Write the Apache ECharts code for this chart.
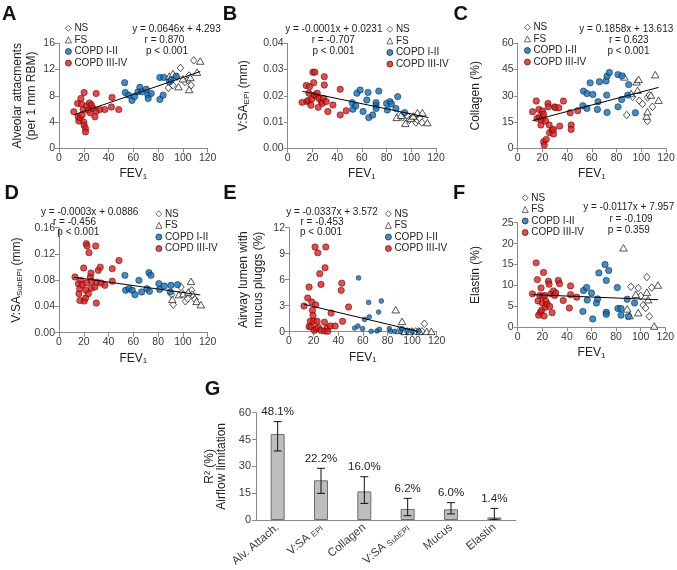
<!DOCTYPE html>
<html><head><meta charset="utf-8">
<script src="https://cdn.jsdelivr.net/npm/echarts@6/dist/echarts.min.js"></script>
<style>html,body{margin:0;padding:0;background:#fff}#c{width:677px;height:570px}</style>
</head><body><div id="c"></div>
<script>
const FONT = '"Liberation Sans", Arial, sans-serif';

// ---------- Panel A: Alveolar attachments ----------
const A_NS = [[88.3,9.2],[91.8,9.6],[95.3,10.9],[98,12.25],[101.7,10.1],[104,10.4],[105,11.1],[106.6,9.6],[108.7,13.4]];
const A_FS = [[89,11.0],[92,11.4],[96.4,9.4],[100,10.6],[105,8.96],[106,10.8],[111.4,11.6],[114,13.3]];
const A_C12 = [[53,10.0],[53.5,8.5],[56.2,8.1],[58.9,7.3],[61,7.9],[63.7,8.6],[65.3,9.3],[67,8.6],[70.4,9.0],[71.8,8.1],[72,7.6],[74.4,8.35],[81.4,7.45],[84,8.1],[81.4,10.8],[84.6,10.8],[89,10.1],[90.5,10.4],[94.5,11.0]];
const A_C34 = [[12,5.57],[15,6.84],[15.5,4.8],[16,4.15],[17,4.6],[17.7,7.6],[18.2,6.7],[18.7,5.1],[19.5,5.9],[20,4.0],[20.3,8.5],[20.3,3.5],[21.4,3.0],[21.4,2.5],[22.5,6.5],[23.6,5.8],[24.6,6.9],[25.2,5.4],[26.2,6.6],[27.6,6.1],[29,4.8],[30,8.35],[30.2,5.7],[33,5.9],[37,5.9],[42.3,6.3],[42.8,7.75],[48.2,5.9]];
const A_trend = [[12,5.1],[114,11.7]];

// ---------- Panel B: V:SA EPI ----------
const B_NS = [[90.3,0.0127],[93,0.0118],[97,0.0123],[98.4,0.0108],[102.4,0.0118],[103.8,0.0098],[105,0.0108],[107,0.0114],[108.6,0.0098]];
const B_FS = [[88.2,0.0118],[91.7,0.0126],[95.2,0.0095],[99.7,0.0114],[101.6,0.0123],[105,0.0136],[109,0.0136],[113,0.0098]];
const B_C12 = [[52.2,0.0174],[52.7,0.0149],[55,0.0161],[56,0.0210],[58.6,0.0222],[61,0.0140],[64,0.0184],[65,0.0213],[65.6,0.0117],[68.8,0.0127],[71.5,0.0174],[71.5,0.0163],[71.5,0.0152],[73.7,0.0218],[80,0.0171],[80.6,0.0146],[82.8,0.0178],[83.9,0.0169],[87.6,0.0152],[89,0.0197],[94.6,0.0136]];
const B_C34 = [[11.6,0.0175],[15,0.0239],[15.6,0.0178],[16.7,0.0182],[17.2,0.0210],[17.7,0.0235],[18.8,0.0164],[19.4,0.0187],[20.4,0.0290],[21,0.0250],[21.5,0.0203],[22,0.0290],[23,0.0200],[23.9,0.0210],[24.7,0.0156],[25.3,0.0190],[27.2,0.0178],[28,0.0171],[29,0.0190],[29.6,0.0273],[29.6,0.0241],[31.2,0.0178],[32.5,0.0140],[36.6,0.0165],[42.5,0.0225],[42.5,0.0127],[47.3,0.0143]];
const B_trend = [[12,0.0217],[114,0.0117]];

// ---------- Panel C: Collagen ----------
const C_NS = [[88.2,19],[93,29.4],[98.4,27.2],[101,25.3],[105,29],[105,15.6],[106.5,30.4],[109,23.7]];
const C_FS = [[86.3,40.8],[91.7,31.3],[96.2,38],[97,33.2],[97.8,39.4],[104.3,18.4],[105,20.9],[107.8,30.4],[111.3,42.1],[114,27.5]];
const C_C12 = [[52.7,24.3],[53.2,32.7],[56,31.3],[56,22.8],[58.6,37.4],[60.8,30.8],[64.5,22.2],[65,26.6],[66.1,38],[71.5,38.5],[72,30.4],[72.3,20.5],[72.3,41.2],[74.2,43.3],[81.2,23.7],[81.2,42.1],[84.4,41.4],[84.1,27.9],[89,30.4],[89.8,36.4],[95.2,20.3]];
const C_C34 = [[12,20.9],[15,27],[15.6,17.1],[17.2,22.2],[17.7,18],[18.8,13.3],[19.4,16.1],[20,21.3],[20.4,17.7],[21,19.4],[21,3.8],[21.5,1.9],[22.6,15.6],[23.1,5.1],[24.5,25.6],[24.7,23.7],[25.5,13.3],[25.8,8.9],[27.9,10.4],[29,8.2],[29,10.8],[29.8,23.7],[30.6,23.2],[33.3,23.2],[34,12.7],[37,27],[42.5,20.3],[43.3,13.3],[43.3,10.8],[48.6,21.5]];
const C_trend = [[12,15.8],[114,34.8]];

// ---------- Panel D: V:SA SubEPI ----------
const D_NS = [[90.9,0.058],[92.2,0.0427],[98.4,0.0696],[102,0.0478],[103.8,0.0519],[107,0.0646],[107.5,0.058],[109.7,0.0508]];
const D_FS = [[91.4,0.0508],[96.8,0.058],[100.3,0.0595],[104.3,0.062],[106.5,0.0783],[111,0.0478],[114.5,0.0427]];
const D_C12 = [[53.2,0.0874],[53.8,0.0646],[56.5,0.067],[59.1,0.0646],[61.3,0.058],[64.5,0.0798],[66.7,0.062],[71,0.067],[72.6,0.0915],[73,0.063],[74.2,0.0874],[80.6,0.0747],[81.2,0.066],[85,0.0712],[89.8,0.062],[90.3,0.0722],[95.7,0.0732]];
const D_C34 = [[12.9,0.0849],[15.6,0.0747],[16.1,0.0595],[16.7,0.0671],[16.9,0.049],[17.7,0.0798],[18.8,0.0732],[19.9,0.0986],[20.4,0.0483],[21.5,0.0529],[21.8,0.0646],[22,0.1357],[22.3,0.0757],[22.6,0.1322],[23.7,0.0595],[24.2,0.122],[25.3,0.0849],[25.8,0.091],[26.3,0.0783],[26.3,0.068],[29,0.0696],[29.6,0.1322],[30.1,0.0452],[30.6,0.077],[31.7,0.095],[33.3,0.100],[33.9,0.0757],[37,0.0722],[43,0.0976],[43,0.0783],[48.4,0.110]];
const D_trend = [[12,0.0845],[114,0.0575]];

// ---------- Panel E: Mucus plugs ----------
const E_NS = [[92,0.04],[96,0.04],[100,0.04],[103,0.04],[105.4,0.04],[108,0.04],[110,0.92]];
const E_FS = [[86.7,2.54],[89,0.15],[91.8,1.19],[94,0.04],[98,0.04],[106,0.04],[112,0.04],[115.6,0.04]];
const E_C12 = [[53.3,0.42],[56,0.65],[56.5,6.2],[59.8,0.35],[61.4,1.42],[64.7,3.38],[65.2,1.7],[66.8,0.04],[71.5,0.08],[72.8,2.27],[73.4,0.27],[75,3.54],[81.5,0.35],[82.6,0.04],[85.9,0.04],[90.5,0.04],[91.8,0.35],[95.9,0.04],[100,0.04],[105.4,0.04]];
const E_C34 = [[12.2,2.96],[15.2,3.88],[16.3,5.15],[16.3,0.6],[17.3,1.2],[17.9,0.54],[18.5,3.42],[19,2.46],[19.5,1.88],[20,1.2],[20.6,0.15],[21.2,9.77],[21.7,3.1],[22.3,0.35],[22.8,1.2],[23.4,9.1],[23.9,0.5],[25,6.7],[26,5.46],[26,0.15],[28.8,0.08],[28.8,1.1],[29.3,7.38],[29.9,9.77],[31,0.42],[31.5,0.04],[33.7,0.65],[34.2,2.15],[37.5,0.65],[42.4,4.77],[42.9,5.6],[43.5,1.2],[48.4,2.85]];
const E_trend = [[12,3.17],[105,0.03]];

// ---------- Panel F: Elastin ----------
const F_NS = [[92,9.7],[98,9.4],[100,7.5],[102,5.3],[104,4.6],[105,12.0],[107,2.6],[109,9.5]];
const F_FS = [[86,19],[89,4.4],[91,2.8],[96,7.9],[98,3.5],[105,8.4],[106,6.6],[111,0.3],[114,10.1]];
const F_C12 = [[53,3.8],[53.5,8.8],[56,9.5],[56.5,6.5],[60,8.2],[61,2.0],[64,5.8],[65,6.8],[66,13],[71,15],[72,11.2],[72,3.6],[72,3.1],[74,13.6],[81,9.5],[81.5,4.5],[84,4.5],[84,2.9],[89,6.7],[90,2.6],[95,5.8]];
const F_C34 = [[12,8.0],[15,15.4],[16,11.4],[16.5,6.3],[17,2.9],[18,7.6],[18.5,3.6],[19,9.4],[19.5,4.1],[20,5.8],[20.5,7.4],[21,13.1],[21.5,2.7],[22,7.6],[22.5,4.8],[23,6.2],[24,5.5],[25,11.0],[25.5,10.3],[26,5.0],[27,8.0],[28,3.5],[29,8.7],[30,7.6],[31,8.2],[33,11.2],[34,10.4],[37,6.4],[42,4.6],[43,9.9],[43,7.8],[48,7.2]];
const F_trend = [[12,7.8],[114,6.6]];

// ---------- Panel G: R2 bars ----------
const G_cats = ['Alv. Attach.','V:SA EPI','Collagen','V:SA SubEPI','Mucus','Elastin'];
const G_vals = [48.1,22.2,16.0,6.2,6.0,1.4];
const G_low  = [38.6,14.9,9.3,2.4,3.4,0.4];
const G_high = [55.0,28.9,24.2,12.1,9.7,6.5];

// ---------- Tick settings ----------
const X_MIN = 0, X_MAX = 120, X_INT = 20;
const Y_SCALES = [[0,16,4,0],[0,0.04,0.01,2],[0,60,15,0],[0,0.16,0.04,2],[0,12,3,0],[0,25,5,0]];
const EQS = [
  ['y = 0.0646x + 4.293','r = 0.870','p < 0.001'],
  ['y = -0.0001x + 0.0231','r = -0.707','p < 0.001'],
  ['y = 0.1858x + 13.613','r = 0.623','p < 0.001'],
  ['y = -0.0003x + 0.0886','r = -0.456','p < 0.001'],
  ['y = -0.0337x + 3.572','r = -0.453','p < 0.001'],
  ['y = -0.0117x + 7.957','r = -0.109','p = 0.359']
];
const Y_NAMES = ['Alveolar attacments\n(per 1 mm RBM)','V:SA{sub|EPI} (mm)','Collagen (%)','V:SA{sub|SubEPI} (mm)','Airway lumen with\nmucus pluggs (%)','Elastin (%)'];

const RED = '#f01616', BLUE = '#0a72c4';
const panelsData = [
  [A_NS,A_FS,A_C12,A_C34,A_trend],
  [B_NS,B_FS,B_C12,B_C34,B_trend],
  [C_NS,C_FS,C_C12,C_C34,C_trend],
  [D_NS,D_FS,D_C12,D_C34,D_trend],
  [E_NS,E_FS,E_C12,E_C34,E_trend],
  [F_NS,F_FS,F_C12,F_C34,F_trend]
];

// layout
const GRIDS = [
  [59,43.3,148.7,105],[287.7,43.3,148.3,105],[517.7,43.3,148.3,105],
  [59,227.7,148.7,105],[289,227.7,147.7,104],[517.7,222.7,147.6,104.6],
  [256,412.7,260,107.3]
];
const YNAME_GAP = [19,37,35,35,23.5,35];
const LEG_POS = [[65,22.5],[386.5,23.5],[524,21.5],[155.5,208],[385,208],[521.8,192]];
const EQ_POS = [
  [[176.5,29],[164.5,40.7],[167,51.7]],
  [[333.8,29],[333.3,40.7],[333.5,51.7]],
  [[626.3,29],[628.8,40.7],[628.5,51.7]],
  [[89.7,212.3],[74.5,222.7],[78.3,232.7]],
  [[332,212.3],[322,222.7],[321,232.7]],
  [[628.7,207.3],[631,219],[628.8,230]]
];
const LETTERS = [['A',9.2,14.2],['B',230,14.2],['C',460.8,14.2],['D',11.7,193.7],['E',230,193.7],['F',459,193.7],['G',212.5,389]];

const AX_COLOR = '#8a8a8a', LBL_COLOR = '#3a3a3a';
const rich = { sub: { fontSize: 8, verticalAlign: 'bottom', padding:[5,0,0,0], fontFamily: FONT, color: '#222' } };

const grid = GRIDS.map(g => ({left:g[0], top:g[1], width:g[2], height:g[3], containLabel:false, outerBoundsMode:'none'}));
const xAxis = [], yAxis = [], series = [];
for (let i = 0; i < 6; i++) {
  const ys = Y_SCALES[i];
  xAxis.push({type:'value', gridIndex:i, min:X_MIN, max:X_MAX, interval:X_INT,
    name:'FEV{sub|1}', nameLocation:'middle', nameGap:19,
    nameTextStyle:{fontFamily:FONT, fontSize:12, color:'#222', rich},
    axisLine:{show:true, onZero:false, lineStyle:{color:AX_COLOR, width:1}},
    axisTick:{show:true, inside:false, length:4, lineStyle:{color:AX_COLOR}},
    splitLine:{show:false},
    axisLabel:{fontFamily:FONT, fontSize:10.5, color:LBL_COLOR, margin:4}
  });
  yAxis.push({type:'value', gridIndex:i, min:ys[0], max:ys[1], interval:ys[2],
    name:Y_NAMES[i], nameLocation:'middle', nameRotate:90, nameGap:YNAME_GAP[i],
    nameTextStyle:{fontFamily:FONT, fontSize:12, color:'#222', lineHeight:14.5, rich},
    axisLine:{show:true, onZero:false, lineStyle:{color:AX_COLOR, width:1}},
    axisTick:{show:true, inside:false, length:4, lineStyle:{color:AX_COLOR}},
    splitLine:{show:false},
    axisLabel:{fontFamily:FONT, fontSize:10.5, color:LBL_COLOR, margin:4, formatter: v => v.toFixed(ys[3])}
  });
  const d = panelsData[i];
  const ms = 6.4;
  series.push({type:'scatter', name:'NS', xAxisIndex:i, yAxisIndex:i, data:d[0], symbol:'diamond', symbolSize:[6.5,7.5],
    itemStyle:{color:'#fff', borderColor:'#111', borderWidth:0.9}, z:3});
  series.push({type:'scatter', name:'FS', xAxisIndex:i, yAxisIndex:i, data:d[1], symbol:'triangle', symbolSize:[7.5,6.5],
    itemStyle:{color:'#fff', borderColor:'#111', borderWidth:0.9}, z:3});
  series.push({type:'scatter', name:'COPD I-II', xAxisIndex:i, yAxisIndex:i, data:d[2], symbol:'circle', symbolSize: i===4 ? 4.8 : ms,
    itemStyle:{color:BLUE, borderColor:'#111', borderWidth:0.6}, z:4});
  series.push({type:'scatter', name:'COPD III-IV', xAxisIndex:i, yAxisIndex:i, data:d[3], symbol:'circle', symbolSize:ms,
    itemStyle:{color:RED, borderColor:'#111', borderWidth:0.6}, z:4});
  series.push({type:'line', name:'trend'+i, xAxisIndex:i, yAxisIndex:i, data:d[4], symbol:'none',
    lineStyle:{color:'#000', width:1}, z:5, silent:true});
}
// Panel G
xAxis.push({type:'category', gridIndex:6, data:G_cats,
  axisLine:{show:true, lineStyle:{color:AX_COLOR, width:1}},
  axisTick:{show:false},
  axisLabel:{fontFamily:FONT, fontSize:11.5, color:LBL_COLOR, rotate:40, margin:6, interval:0, rich:{sub:{fontSize:8, fontFamily:FONT, color:LBL_COLOR, verticalAlign:'bottom', padding:[4,0,0,0]}},
    formatter: v => v.replace(/^V:SA (\S+)$/, 'V:SA {sub|$1}')}
});
yAxis.push({type:'value', gridIndex:6, min:0, max:60, interval:15,
  name:'R² (%)\nAirflow limitation', nameLocation:'middle', nameRotate:90, nameGap:28,
  nameTextStyle:{fontFamily:FONT, fontSize:12, color:'#222', lineHeight:12},
  axisLine:{show:true, lineStyle:{color:AX_COLOR, width:1}},
  axisTick:{show:true, inside:false, length:4, lineStyle:{color:AX_COLOR}},
  splitLine:{show:false},
  axisLabel:{fontFamily:FONT, fontSize:11, color:LBL_COLOR, margin:5}
});
series.push({type:'bar', name:'R2', xAxisIndex:6, yAxisIndex:6, data:G_vals, barWidth:14,
  itemStyle:{color:'#bdbdbd', borderColor:'#6e6e6e', borderWidth:1}});
series.push({type:'custom', name:'err', xAxisIndex:6, yAxisIndex:6, z:6,
  data: G_cats.map((c,i) => [i, G_low[i], G_high[i], G_vals[i]]),
  renderItem: (params, api) => {
    const lo = api.coord([api.value(0), api.value(1)]);
    const hi = api.coord([api.value(0), api.value(2)]);
    const x = lo[0], w = 4;
    const st = {stroke:'#111', lineWidth:1};
    return {type:'group', children:[
      {type:'line', shape:{x1:x,y1:lo[1],x2:x,y2:hi[1]}, style:st},
      {type:'line', shape:{x1:x-w,y1:lo[1],x2:x+w,y2:lo[1]}, style:st},
      {type:'line', shape:{x1:x-w,y1:hi[1],x2:x+w,y2:hi[1]}, style:st},
      {type:'text', x:x, y:hi[1]-9.5, style:{text: api.value(3).toFixed(1)+'%', fontSize:11.5, fontFamily:FONT, fill:'#222', align:'center', verticalAlign:'middle'}}
    ]};
  }
});

const legend = LEG_POS.map(p => ({
  orient:'vertical', left:p[0], top:p[1], itemWidth:6, itemHeight:6, itemGap:0, padding:0,
  selectedMode:false, data:['NS','FS','COPD I-II','COPD III-IV'],
  itemStyle:{borderWidth:0.8},
  textStyle:{fontFamily:FONT, fontSize:10, color:'#222', lineHeight:11.6, padding:[0,0,0,-2]}
}));

const graphic = [];
LETTERS.forEach(l => graphic.push({type:'text', x:l[1], y:l[2], style:{text:l[0], font:'bold 20px '+FONT, fill:'#111', align:'center', verticalAlign:'middle'}}));
EQS.forEach((lines,i) => lines.forEach((t,j) => graphic.push({type:'text', x:EQ_POS[i][j][0], y:EQ_POS[i][j][1],
  style:{text:t, fontSize:10, fontFamily:FONT, fill:'#222', align:'center', verticalAlign:'middle'}})));

const chart = echarts.init(document.getElementById('c'), null, {renderer:'canvas'});
chart.setOption({backgroundColor:'#fff', animation:false, grid, xAxis, yAxis, series, legend, graphic});
</script></body></html>
